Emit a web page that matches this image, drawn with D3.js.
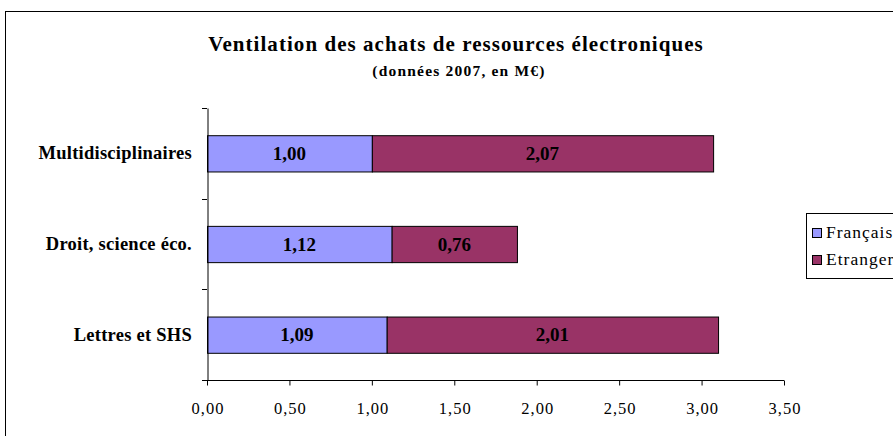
<!DOCTYPE html>
<html><head><meta charset="utf-8">
<script src="https://cdn.jsdelivr.net/npm/d3@7"></script>
<style>body{margin:0;background:#fff}svg{display:block}text{font-family:"Liberation Serif","Times New Roman",serif}</style>
</head><body>
<svg id="c" width="893" height="436"></svg>
<script>
const categories = ["Multidisciplinaires", "Droit, science éco.", "Lettres et SHS"];
const francais = [1.00, 1.12, 1.09];
const etranger = [2.07, 0.76, 2.01];
const seriesNames = ["Français", "Etranger"];
const seriesColors = ["#9999FF", "#993366"];
const xTicks = [0, 0.5, 1, 1.5, 2, 2.5, 3, 3.5];

const svg = d3.select("#c");
const fmt = v => v.toFixed(2).replace(".", ",");

// outer frame
svg.append("rect").attr("x", 5.5).attr("y", 11.5).attr("width", 900).attr("height", 440)
  .attr("fill", "#fff").attr("stroke", "#000").attr("stroke-width", 1);

svg.append("text").attr("x", 456).attr("y", 51).attr("text-anchor", "middle")
  .attr("font-weight", "bold").attr("font-size", 21).attr("letter-spacing", 1.05)
  .text("Ventilation des achats de ressources électroniques");
svg.append("text").attr("x", 459).attr("y", 76).attr("text-anchor", "middle")
  .attr("font-weight", "bold").attr("font-size", 15.5).attr("letter-spacing", 1.2)
  .text("(données 2007, en M€)");

const x = d3.scaleLinear().domain([0, 3.5]).range([207, 784]);
const y = d3.scaleBand().domain(categories).range([108, 380]).paddingInner(0.6).paddingOuter(0.3);
const yb = d3.scaleBand().domain(categories).range([108, 380]);

const stacked = categories.map((c, i) => ({c, vals: [francais[i], etranger[i]]}));

stacked.forEach(d => {
  let acc = 0;
  d.vals.forEach((v, j) => {
    svg.append("rect").attr("x", x(acc) + 0.5).attr("y", y(d.c) + 0.5)
      .attr("width", x(acc + v) - x(acc)).attr("height", y.bandwidth())
      .attr("fill", seriesColors[j]).attr("stroke", "#000").attr("stroke-width", 1);
    svg.append("text").attr("x", (x(acc) + x(acc + v)) / 2).attr("y", y(d.c) + y.bandwidth() / 2 + 6.5)
      .attr("text-anchor", "middle").attr("font-weight", "bold").attr("font-size", 19).text(fmt(v));
    acc += v;
  });
});

// x axis
const xa = svg.append("g").attr("transform", "translate(0,380.5)")
  .call(d3.axisBottom(x).tickValues(xTicks).tickFormat(fmt).tickSize(5).tickSizeOuter(0).tickPadding(17));
xa.select(".domain").attr("stroke", "#000").attr("d", "M" + (x(0) - 5) + ",0H" + x(3.5));
xa.selectAll("line").attr("stroke", "#000");
xa.selectAll("text").attr("font-size", 16.5).attr("letter-spacing", 1).attr("dx", 0.5);

// y axis
const ya = svg.append("g").attr("transform", "translate(207.5,0)")
  .call(d3.axisLeft(yb).tickValues([]).tickSizeOuter(0));
ya.select(".domain").attr("stroke", "#000");
const yTickPos = [108, 198.7, 289.3, 380];
yTickPos.forEach(p => svg.append("line").attr("x1", 202).attr("x2", 207).attr("y1", Math.round(p) + 0.5).attr("y2", Math.round(p) + 0.5).attr("stroke", "#000"));
categories.forEach(c => {
  svg.append("text").attr("x", 192).attr("y", yb(c) + yb.bandwidth() / 2 + 6)
    .attr("text-anchor", "end").attr("font-weight", "bold").attr("font-size", 18.5).attr("letter-spacing", 0.25).text(c);
});

// legend
const lg = svg.append("g");
lg.append("rect").attr("x", 806.5).attr("y", 213.5).attr("width", 120).attr("height", 65)
  .attr("fill", "#fff").attr("stroke", "#000");
seriesNames.forEach((n, i) => {
  lg.append("rect").attr("x", 812.5).attr("y", 228.5 + i * 27).attr("width", 9).attr("height", 9)
    .attr("fill", seriesColors[i]).attr("stroke", "#000");
  lg.append("text").attr("x", 826).attr("y", 238 + i * 27).attr("font-size", 17.5).attr("letter-spacing", 1).text(n);
});
</script>
</body></html>
